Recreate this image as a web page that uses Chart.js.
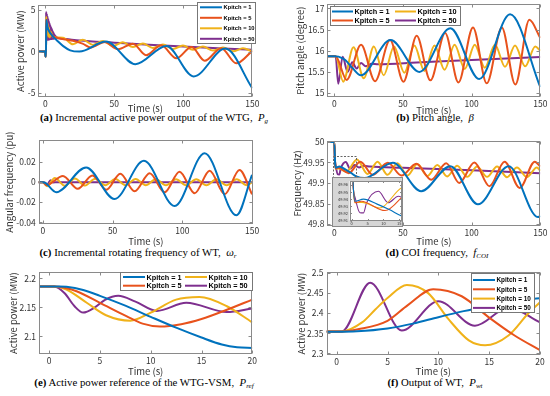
<!DOCTYPE html>
<html>
<head>
<meta charset="utf-8">
<script src="https://cdn.jsdelivr.net/npm/chart.js@4.4.1/dist/chart.umd.min.js"></script>
<style>
html, body { margin: 0; padding: 0; background: #fff; }
body { width: 550px; height: 396px; position: relative; overflow: hidden; }
canvas { position: absolute; }
.cap { position: absolute; white-space: nowrap; font-family: "Liberation Serif", serif; font-size: 10.8px; line-height: 12px; color: #000; transform: translateX(-50%); }
.cap sub { font-size: 7px; vertical-align: -2px; line-height: 0; }
</style>
</head>
<body>
<div class="cap" style="left:154px;top:111px"><b>(a)</b> Incremental active power output of the WTG,&nbsp; <i>P<sub>g</sub></i></div>
<div class="cap" style="left:435px;top:111px"><b>(b)</b> Pitch angle,&nbsp; <i>β</i></div>
<div class="cap" style="left:138px;top:246px"><b>(c)</b> Incremental rotating frequency of WT,&nbsp; <i>ω<sub>r</sub></i></div>
<div class="cap" style="left:437px;top:246px"><b>(d)</b> COI frequency,&nbsp; <i>f<sub>COI</sub></i></div>
<div class="cap" style="left:144px;top:376px"><b>(e)</b> Active power reference of the WTG-VSM,&nbsp; <i>P<sub>ref</sub></i></div>
<div class="cap" style="left:435px;top:376px"><b>(f)</b> Output of WT,&nbsp; <i>P<sub>wt</sub></i></div>
<script>
const seriesNames = ['Kpitch = 1', 'Kpitch = 5', 'Kpitch = 10', 'Kpitch = 50'];
const seriesColors = ['#0072BD', '#E8521C', '#F0B21A', '#7E2F8E'];

// tick labels
const longTimeTicks = [0, 50, 100, 150];
const shortTimeTicks = [0, 5, 10, 15, 20];
const insetTimeTicks = [0, 5, 10, 15];
const pgTicks = [-5, 0, 5];
const betaTicks = [15, 15.5, 16, 16.5, 17];
const omegaTicks = [-0.04, -0.02, 0, 0.02];
const fcoiTicks = [49.8, 49.85, 49.9, 49.95, 50];
const insetTicks = [49.91, 49.92, 49.93, 49.94, 49.95, 49.96];
const prefTicks = [2.1, 2.15, 2.2];
const pwtTicks = [2.3, 2.35, 2.4, 2.45, 2.5];

// (a) incremental active power of the WTG (MW)
const pgT1 = [-5, 0, 0.1, 0.5, 0.7, 1.5, 3, 6, 9, 13, 18, 24.7, 44, 65.3, 87.8, 107.5, 130.5, 150];
const pgV1 = [0, 0, -0.6, -0.6, 3.8, 3.0, 2.4, 1.75, 1.25, 0.65, 0.15, 0, 1.2, -1.52, 0.67, -3.0, 0.36, -4.42];
const pgT2 = [-5, 0, 0.1, 0.5, 0.7, 1.5, 3, 6, 10, 15, 20, 27, 33, 43, 52.7, 63.5, 73, 84, 95, 106, 115.5, 127.5, 138.4, 150];
const pgV2 = [0, 0, -0.6, -0.6, 3.8, 3.0, 2.4, 1.85, 1.6, 1.45, 1.3, 0.95, 0.5, 1.15, 0.28, 0.95, -0.44, 0.75, -0.8, 0.55, -1.1, 0.4, -1.42, 0.08];
const pgT3 = [-5, 0, 0.1, 0.5, 0.7, 1.2, 1.7, 2.2, 2.7, 3.2, 4, 5, 6.5, 8, 12.75, 20, 27.25, 34.5, 41.75, 49, 56.25, 63.5, 70.75, 78, 85.25, 92.5, 99.75, 107, 114.25, 121.5, 128.75, 136, 143.25, 150];
const pgV3 = [0, 0, -0.6, -0.6, 4.2, 2.0, 3.4, 1.8, 2.9, 1.7, 2.4, 1.9, 1.75, 1.7, 1.68, 0.88, 1.43, 0.8, 1.27, 0.68, 1.13, 0.55, 0.98, 0.43, 0.85, 0.32, 0.72, 0.22, 0.6, 0.12, 0.49, 0.03, 0.39, 0.0];
const pgT4 = [-5, 0, 0.1, 0.45, 0.6, 0.85, 1.1, 1.35, 1.6, 1.85, 2.1, 2.35, 2.6, 2.85, 3.1, 3.35, 3.6, 3.85, 4.1, 4.35, 4.6, 4.85, 5.1, 5.35, 5.6, 5.85, 6.1, 6.35, 6.6, 6.85, 7.1, 7.35, 7.6, 7.85, 8.1, 8.6, 10, 15, 25, 50, 75, 100, 125, 150];
const pgV4 = [0, 0, -0.6, -0.6, 4.8, 1.3, 4.6, 1.4, 4.3, 1.4, 4.0, 1.4, 3.7, 1.45, 3.45, 1.45, 3.2, 1.5, 3.0, 1.5, 2.8, 1.5, 2.6, 1.55, 2.4, 1.55, 2.25, 1.55, 2.1, 1.6, 1.95, 1.6, 1.85, 1.6, 1.75, 1.65, 1.6, 1.52, 1.33, 1.07, 0.82, 0.6, 0.4, 0.22];

// (b) pitch angle (degree)
const betaT1 = [-5, 0, 3, 8, 13, 19.3, 41, 62, 84.5, 105.5, 128, 150];
const betaV1 = [15.87, 15.87, 15.86, 15.78, 15.6, 15.42, 16.25, 15.5, 16.53, 15.33, 16.86, 15.14];
const betaT2 = [-5, 0, 1, 9, 19.5, 29.7, 40.6, 50.4, 60, 70, 80.7, 90.4, 101, 111, 122, 131.8, 142, 150];
const betaV2 = [15.87, 15.87, 15.87, 15.31, 16.14, 15.28, 16.25, 15.27, 16.35, 15.3, 16.42, 15.25, 16.55, 15.23, 16.55, 15.2, 16.73, 16.3];
const betaT3 = [-5, 0, 1, 6.5, 14, 21.5, 28.8, 36, 43.5, 51, 58.3, 65.6, 73, 80.3, 87.6, 95, 102.3, 109.6, 117, 124.3, 131.6, 139, 146.3, 150];
const betaV3 = [15.87, 15.87, 15.87, 15.27, 16.08, 15.35, 16.1, 15.42, 16.1, 15.48, 16.12, 15.52, 16.12, 15.55, 16.14, 15.57, 16.14, 15.6, 16.14, 15.62, 16.12, 15.63, 16.1, 16.0];
const betaT4 = [-5, 0, 1, 2.9, 6.1, 9.7, 13.1, 16.3, 19.5, 22.9, 27.2, 32, 60, 100, 150];
const betaV4 = [15.87, 15.87, 15.87, 15.22, 15.86, 15.5, 15.73, 15.58, 15.71, 15.63, 15.69, 15.68, 15.72, 15.78, 15.85];

// (c) incremental rotating frequency (pu)
const omegaT1 = [-5, 0, 2, 9.6, 31, 51.4, 72.5, 94.5, 116, 138.8, 150];
const omegaV1 = [0, 0, -0.001, -0.01, 0.0147, -0.0167, 0.0213, -0.0237, 0.029, -0.033, 0.0073];
const omegaT2 = [-5, 0, 2.5, 14.4, 25, 35.5, 45.5, 55.5, 65.8, 76.6, 87.3, 98, 108.9, 119.6, 130.4, 141, 150];
const omegaV2 = [0, 0, -0.003, 0.0063, -0.0065, 0.0068, -0.0075, 0.0085, -0.009, 0.009, -0.01, 0.0105, -0.011, 0.0115, -0.012, 0.0122, -0.012];
const omegaT3 = [-5, 0, 3, 8.5, 15.75, 23, 30.25, 37.5, 44.75, 52, 59.25, 66.5, 73.75, 81, 88.25, 95.5, 102.75, 110, 117.25, 124.5, 131.75, 139, 146.25, 150];
const omegaV3 = [0, 0, -0.004, 0.0042, -0.0035, 0.0038, -0.0033, 0.0035, -0.003, 0.0033, -0.003, 0.0032, -0.003, 0.003, -0.003, 0.003, -0.003, 0.003, -0.003, 0.003, -0.003, 0.003, -0.003, 0];
const omegaT4 = [-5, 0, 1.5, 3, 5.5, 7.5, 10, 150];
const omegaV4 = [0, 0, -0.0005, -0.0025, 0.002, -0.0003, 0, 0];

// (d) COI frequency (Hz)
const fcoiT1 = [-5, 0, 0.6, 1.0, 3.7, 8, 12, 16, 22, 42.7, 63.3, 84.5, 104.6, 127, 148.3, 150];
const fcoiV1 = [50, 50, 49.95, 49.937, 49.94, 49.933, 49.925, 49.916, 49.912, 49.949, 49.88, 49.941, 49.848, 49.941, 49.817, 49.82];
const fcoiT2 = [-5, 0, 0.6, 1.0, 3, 10.5, 19, 28, 39, 49, 59.7, 70.6, 81.5, 91, 102, 113, 124, 135, 146, 150];
const fcoiV2 = [50, 50, 49.95, 49.935, 49.937, 49.924, 49.952, 49.92, 49.949, 49.918, 49.947, 49.908, 49.948, 49.9, 49.95, 49.892, 49.952, 49.888, 49.952, 49.94];
const fcoiT3 = [-5, 0, 0.6, 1, 3.3, 8.9, 16.5, 24.25, 31.5, 38.75, 46, 53.25, 60.5, 67.75, 75, 82.25, 89.5, 96.75, 104, 111.25, 118.5, 125.75, 133, 140.25, 147.5, 150];
const fcoiV3 = [50, 50, 49.95, 49.935, 49.9354, 49.9276, 49.957, 49.922, 49.952, 49.92, 49.948, 49.918, 49.946, 49.917, 49.944, 49.916, 49.942, 49.915, 49.94, 49.915, 49.94, 49.914, 49.938, 49.914, 49.938, 49.93];
const fcoiT4 = [-5, 0, 0.3, 1.2, 2.6, 3.7, 4.7, 8.4, 11.5, 14.7, 18, 21.5, 26, 50, 100, 150];
const fcoiV4 = [50, 50, 49.965, 49.94, 49.921, 49.9207, 49.935, 49.951, 49.935, 49.944, 49.938, 49.942, 49.94, 49.937, 49.931, 49.924];

// (e) active power reference of the WTG-VSM (MW)
const prefT1 = [-1, 0, 1, 1.7, 3.35, 5, 7.5, 10, 12.5, 15, 17, 18.5, 20];
const prefV1 = [2.186, 2.186, 2.186, 2.1855, 2.18, 2.17, 2.153, 2.1337, 2.115, 2.098, 2.086, 2.081, 2.08];
const prefT2 = [-1, 0, 0.5, 1.5, 2.7, 5, 7.6, 9.2, 10.9, 13, 15, 17.5, 20];
const prefV2 = [2.186, 2.186, 2.186, 2.184, 2.178, 2.158, 2.135, 2.122, 2.117, 2.121, 2.13, 2.146, 2.1635];
const prefT3 = [-1, 0, 0.5, 1.7, 3.7, 5.6, 8, 10, 12.5, 14.8, 17.5, 20];
const prefV3 = [2.186, 2.186, 2.186, 2.181, 2.158, 2.1365, 2.127, 2.141, 2.1635, 2.168, 2.152, 2.124];
const prefT4 = [-1, 0, 0.5, 1.5, 2.5, 3.35, 4.5, 5.5, 6.8, 8.5, 10.6, 13.5, 17.5, 20];
const prefV4 = [2.186, 2.186, 2.186, 2.175, 2.152, 2.141, 2.15, 2.163, 2.17, 2.16, 2.144, 2.158, 2.142, 2.148];

// (f) output of WT (MW)
const pwtT1 = [-1, 0, 2, 5, 7.5, 10, 12.5, 15, 17.5, 20];
const pwtV1 = [2.354, 2.354, 2.355, 2.362, 2.374, 2.39, 2.405, 2.418, 2.43, 2.437];
const pwtT2 = [-1, 0, 0.5, 2.1, 5, 7, 9.5, 12.3, 15, 17.5, 20];
const pwtV2 = [2.3545, 2.3545, 2.3545, 2.36, 2.381, 2.42, 2.4595, 2.442, 2.389, 2.3445, 2.308];
const pwtT3 = [-1, 0, 0.5, 2.5, 3.8, 5, 6.9, 9, 11, 13, 14.6, 16.9, 18.9, 20];
const pwtV3 = [2.3545, 2.3545, 2.3545, 2.377, 2.409, 2.4375, 2.47, 2.4498, 2.385, 2.3324, 2.32, 2.3445, 2.401, 2.427];
const pwtT4 = [-1, 0, 0.5, 3.3, 6.4, 10, 13.6, 16.9, 20];
const pwtV4 = [2.3545, 2.3545, 2.3545, 2.4757, 2.3567, 2.4296, 2.3688, 2.4134, 2.377];

const AXIS_FONT = '"Noto Sans CJK JP", "Noto Sans", sans-serif';
const LEGEND_FONT = '"Liberation Sans", Arial, sans-serif';

function pts(T, V) {
    return T.map((t, i) => ({ x: t, y: V[i] }));
}

function fmt(v) {
    return String(Math.round(v * 10000) / 10000);
}

// box round the plot with inward tick marks, like matlab axes
const framePlugin = {
    id: 'frame',
    beforeDraw(chart, args, opts) {
        const { ctx, chartArea: a } = chart;
        if (opts.bg) {
            ctx.save();
            ctx.fillStyle = opts.bg;
            ctx.fillRect(0, 0, chart.width, chart.height);
            ctx.strokeStyle = '#8a8a8a';
            ctx.strokeRect(0.5, 0.5, chart.width - 1, chart.height - 1);
            ctx.fillStyle = '#fff';
            ctx.fillRect(a.left, a.top, a.right - a.left, a.bottom - a.top);
            ctx.restore();
        }
    },
    afterDraw(chart, args, opts) {
        const { ctx, chartArea: a, scales } = chart;
        const tl = opts.tick || 3;
        ctx.save();
        ctx.strokeStyle = '#8a8a8a';
        ctx.lineWidth = 1;
        const L = Math.round(a.left) + 0.5, R = Math.round(a.right) - 0.5;
        const T = Math.round(a.top) + 0.5, B = Math.round(a.bottom) - 0.5;
        ctx.strokeRect(L, T, R - L, B - T);
        ctx.beginPath();
        scales.x.ticks.forEach(t => {
            const px = Math.round(scales.x.getPixelForValue(t.value)) + 0.5;
            ctx.moveTo(px, B); ctx.lineTo(px, B - tl);
            ctx.moveTo(px, T); ctx.lineTo(px, T + tl);
        });
        scales.y.ticks.forEach(t => {
            const py = Math.round(scales.y.getPixelForValue(t.value)) + 0.5;
            ctx.moveTo(L, py); ctx.lineTo(L + tl, py);
            ctx.moveTo(R, py); ctx.lineTo(R - tl, py);
        });
        ctx.stroke();
        // dashed zoom box
        if (opts.zoomBox) {
            const z = opts.zoomBox;
            const x0 = scales.x.getPixelForValue(z[0]), x1 = scales.x.getPixelForValue(z[1]);
            const y0 = scales.y.getPixelForValue(z[3]), y1 = scales.y.getPixelForValue(z[2]);
            ctx.setLineDash([2, 1.5]);
            ctx.strokeStyle = '#666';
            ctx.strokeRect(Math.round(x0) + 0.5, Math.round(y0) + 0.5, Math.round(x1 - x0), Math.round(y1 - y0));
            ctx.setLineDash([]);
        }
        ctx.restore();
    }
};

// legend box inside the plot
const keyPlugin = {
    id: 'keyBox',
    afterDraw(chart, args, o) {
        if (!o || !o.box) return;
        const { ctx } = chart;
        const bx = o.box[0] - o.ox, by = o.box[1] - o.oy;
        ctx.save();
        ctx.fillStyle = '#fff';
        ctx.fillRect(bx, by, o.box[2], o.box[3]);
        ctx.strokeStyle = '#777';
        ctx.lineWidth = 1;
        ctx.strokeRect(Math.round(bx) + 0.5, Math.round(by) + 0.5, Math.round(o.box[2]), Math.round(o.box[3]));
        ctx.font = 'bold ' + o.size + 'px ' + LEGEND_FONT;
        ctx.textBaseline = 'middle';
        ctx.fillStyle = '#000';
        chart.data.datasets.forEach((ds, i) => {
            const col = Math.floor(i / o.rows), row = i % o.rows;
            const x = bx + o.padX + col * o.colW;
            const y = by + o.padY + row * o.rowH;
            ctx.strokeStyle = ds.borderColor;
            ctx.lineWidth = 2;
            ctx.beginPath();
            ctx.moveTo(x, y); ctx.lineTo(x + o.lineLen, y);
            ctx.stroke();
            ctx.fillText(ds.label, x + o.lineLen + 1.5, y + 0.5);
        });
        ctx.restore();
    }
};

function drawPanel(p) {
    const cv = document.createElement('canvas');
    cv.width = p.cw;
    cv.height = p.ch;
    cv.style.left = p.cl + 'px';
    cv.style.top = p.ct + 'px';
    document.body.appendChild(cv);
    const tickFont = { family: AXIS_FONT, size: p.tickSize };
    const titleFont = { family: AXIS_FONT, size: 9.5 };
    const legend = p.legend ? Object.assign({ ox: p.cl, oy: p.ct }, p.legend) : null;
    new Chart(cv, {
        type: 'line',
        data: {
            datasets: p.series.map((s, i) => ({
                label: seriesNames[i],
                data: pts(s[0], s[1]),
                borderColor: seriesColors[i],
                borderWidth: p.lineWidth || 2,
                pointRadius: 0,
                fill: false,
                cubicInterpolationMode: 'monotone'
            }))
        },
        options: {
            responsive: false,
            animation: false,
            devicePixelRatio: 1,
            layout: { padding: { left: 0, top: p.top - p.ct, right: p.cl + p.cw - p.right, bottom: 0 } },
            plugins: {
                legend: { display: false },
                tooltip: { enabled: false },
                frame: { bg: p.bg, tick: p.tickLen, zoomBox: p.zoomBox },
                keyBox: legend
            },
            scales: {
                x: {
                    type: 'linear', min: p.xMin, max: p.xMax,
                    grid: { display: false, drawTicks: false },
                    border: { display: false },
                    ticks: { padding: p.xPad, font: tickFont, color: '#333', autoSkip: false, maxRotation: 0, callback: fmt },
                    afterBuildTicks: s => { s.ticks = p.xTicks.map(v => ({ value: v })); },
                    afterFit: s => { s.height = p.ct + p.ch - p.bottom; },
                    title: { display: !!p.xTitle, text: p.xTitle, font: titleFont, color: '#333', padding: 0 }
                },
                y: {
                    type: 'linear', min: p.yMin, max: p.yMax,
                    grid: { display: false, drawTicks: false },
                    border: { display: false },
                    ticks: { padding: p.yPad, font: tickFont, color: '#333', autoSkip: false, callback: fmt },
                    afterBuildTicks: s => { s.ticks = p.yTicks.map(v => ({ value: v })); },
                    afterFit: s => { s.width = p.left - p.cl; },
                    title: { display: !!p.yTitle, text: p.yTitle, font: titleFont, color: '#333', padding: 0 }
                }
            }
        },
        plugins: [framePlugin, keyPlugin]
    });
}

// canvas box from the plot box and axis title positions
function mainPanel(p, yTitleX, xTitleY) {
    const lh = 9.5 * 1.2;
    p.cl = Math.round(yTitleX - lh / 2);
    p.ct = Math.floor(p.top - 6);
    p.ch = Math.round(xTitleY + lh / 2) - p.ct;
    p.cw = Math.ceil(p.right + 9 - p.cl);
    p.tickSize = 8.5;
    p.xPad = 1.5;
    p.yPad = 3;
    p.xTitle = 'Time (s)';
    drawPanel(p);
}

mainPanel({
    left: 38.4, top: 3.5, right: 252.3, bottom: 97.2,
    xMin: -5, xMax: 150, yMin: -5.5, yMax: 5.6,
    xTicks: longTimeTicks, yTicks: pgTicks, yTitle: 'Active power (MW)',
    series: [[pgT1, pgV1], [pgT2, pgV2], [pgT3, pgV3], [pgT4, pgV4]],
    legend: { box: [197, 2, 58, 41], rows: 4, colW: 0, rowH: 10.5, padX: 3, padY: 5.3, lineLen: 22, size: 5.8 }
}, 20.7, 108.3);

mainPanel({
    left: 327.4, top: 2.7, right: 540.3, bottom: 97.3,
    xMin: -5, xMax: 150, yMin: 14.9, yMax: 17.1,
    xTicks: longTimeTicks, yTicks: betaTicks, yTitle: 'Pitch angle (degree)',
    series: [[betaT1, betaV1], [betaT2, betaV2], [betaT3, betaV3], [betaT4, betaV4]],
    legend: { box: [330, 6, 130, 19], rows: 2, colW: 63, rowH: 9, padX: 2, padY: 5.5, lineLen: 21, size: 7.3 }
}, 301, 110);

mainPanel({
    left: 38.7, top: 138.7, right: 253, bottom: 224.3,
    xMin: -3, xMax: 150.7, yMin: -0.042, yMax: 0.042,
    xTicks: longTimeTicks, yTicks: omegaTicks, yTitle: 'Angular frequency (pu)',
    series: [[omegaT1, omegaV1], [omegaT2, omegaV2], [omegaT3, omegaV3], [omegaT4, omegaV4]]
}, 9.3, 241.7);

mainPanel({
    left: 327.4, top: 139, right: 540.3, bottom: 225.7,
    xMin: -5, xMax: 150, yMin: 49.796, yMax: 50.002,
    xTicks: longTimeTicks, yTicks: fcoiTicks, yTitle: 'Frequency (Hz)',
    series: [[fcoiT1, fcoiV1], [fcoiT2, fcoiV2], [fcoiT3, fcoiV3], [fcoiT4, fcoiV4]],
    zoomBox: [-0.7, 15.7, 49.91, 49.9655]
}, 297.7, 241);

// zoomed inset of (d)
drawPanel({
    cl: 332, ct: 177, cw: 71, ch: 50,
    left: 349.5, top: 181, right: 401.5, bottom: 220.5,
    xMin: -0.7, xMax: 15.7, yMin: 49.91, yMax: 49.9655,
    xTicks: insetTimeTicks, yTicks: insetTicks,
    tickSize: 4, xPad: 0.5, yPad: 1.5, tickLen: 1.5, lineWidth: 1.1, bg: '#d6d6d6',
    series: [[fcoiT1, fcoiV1], [fcoiT2, fcoiV2], [fcoiT3, fcoiV3], [fcoiT4, fcoiV4]]
});

mainPanel({
    left: 39, top: 270, right: 252.3, bottom: 354.3,
    xMin: -1, xMax: 20, yMin: 2.069, yMax: 2.211,
    xTicks: shortTimeTicks, yTicks: prefTicks, yTitle: 'Active power (MW)',
    series: [[prefT1, prefV1], [prefT2, prefV2], [prefT3, prefV3], [prefT4, prefV4]],
    legend: { box: [120, 272, 132, 18], rows: 2, colW: 62, rowH: 8.7, padX: 3, padY: 5, lineLen: 22, size: 7.3 }
}, 13.3, 371.7);

mainPanel({
    left: 326.5, top: 270, right: 540, bottom: 355,
    xMin: -1, xMax: 20, yMin: 2.296, yMax: 2.502,
    xTicks: shortTimeTicks, yTicks: pwtTicks, yTitle: 'Active power (MW)',
    series: [[pwtT1, pwtV1], [pwtT2, pwtV2], [pwtT3, pwtV3], [pwtT4, pwtV4]],
    legend: { box: [471, 273, 63, 39], rows: 4, colW: 0, rowH: 9.3, padX: 2, padY: 7, lineLen: 22, size: 6.4 }
}, 301.7, 371.7);
</script>
</body>
</html>
